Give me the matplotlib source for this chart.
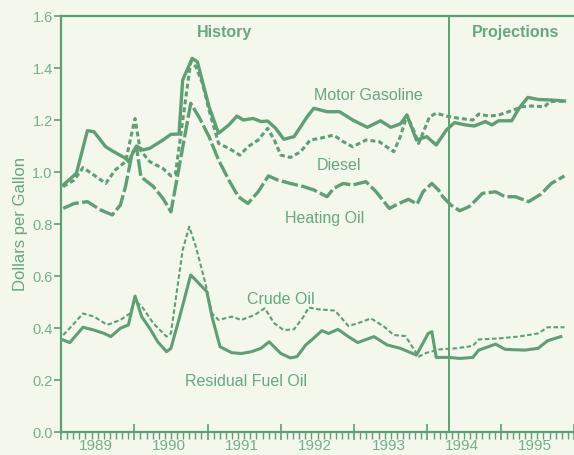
import matplotlib
matplotlib.use("Agg")
import matplotlib.pyplot as plt
import matplotlib.transforms as mtransforms
from matplotlib.ticker import MultipleLocator

plt.rcParams['font.family'] = ['Liberation Sans', 'DejaVu Sans']

# dates in decimal years, prices in dollars per gallon
gas_t = [1989.03, 1989.21, 1989.36, 1989.45, 1989.61, 1989.72, 1989.88, 1989.92, 1990.03, 1990.12,
         1990.21, 1990.39, 1990.50, 1990.61, 1990.66, 1990.79, 1990.86, 1991.02, 1991.15, 1991.29,
         1991.40, 1991.49, 1991.62, 1991.73, 1991.82, 1991.93, 1992.04, 1992.18, 1992.36, 1992.45,
         1992.63, 1992.80, 1992.98, 1993.18, 1993.36, 1993.50, 1993.63, 1993.72, 1993.85, 1993.99,
         1994.12, 1994.26, 1994.37, 1994.52, 1994.64, 1994.79, 1994.88, 1994.97, 1995.15, 1995.25,
         1995.37, 1995.51, 1995.69, 1995.87]
gas_v = [0.95, 0.995, 1.159, 1.155, 1.097, 1.078, 1.053, 1.04, 1.10, 1.085,
         1.091, 1.123, 1.145, 1.146, 1.354, 1.437, 1.424, 1.251, 1.149, 1.181,
         1.215, 1.20, 1.206, 1.194, 1.196, 1.168, 1.126, 1.136, 1.213, 1.245,
         1.232, 1.232, 1.20, 1.172, 1.197, 1.172, 1.185, 1.219, 1.123, 1.136,
         1.104, 1.162, 1.19, 1.181, 1.177, 1.194, 1.181, 1.197, 1.197, 1.245,
         1.287, 1.279, 1.277, 1.273]

diesel_t = [1989.03, 1989.18, 1989.30, 1989.45, 1989.61, 1989.74, 1989.88, 1990.01, 1990.08, 1990.21,
            1990.39, 1990.50, 1990.56, 1990.77, 1990.84, 1990.93, 1991.02, 1991.15, 1991.29, 1991.44,
            1991.55, 1991.69, 1991.82, 1991.91, 1992.00, 1992.13, 1992.27, 1992.40, 1992.54, 1992.72,
            1992.85, 1992.98, 1993.16, 1993.34, 1993.54, 1993.63, 1993.72, 1993.83, 1993.88, 1994.03,
            1994.12, 1994.26, 1994.44, 1994.62, 1994.70, 1994.84, 1994.97, 1995.15, 1995.29, 1995.42,
            1995.60, 1995.67, 1995.87]
diesel_v = [0.944, 0.969, 1.017, 0.988, 0.956, 1.008, 1.04, 1.206, 1.085, 1.04,
            1.014, 0.985, 0.99, 1.424, 1.405, 1.341, 1.238, 1.11, 1.091, 1.065,
            1.097, 1.123, 1.168, 1.123, 1.065, 1.056, 1.078, 1.123, 1.13, 1.142,
            1.117, 1.097, 1.123, 1.117, 1.078, 1.136, 1.219, 1.149, 1.11, 1.213,
            1.226, 1.215, 1.206, 1.20, 1.223, 1.215, 1.219, 1.236, 1.251, 1.254,
            1.251, 1.271, 1.273]

heat_t = [1989.03, 1989.18, 1989.36, 1989.54, 1989.70, 1989.81, 1989.88, 1989.97, 1990.03, 1990.09,
          1990.26, 1990.39, 1990.50, 1990.77, 1990.88, 1991.02, 1991.15, 1991.29, 1991.42, 1991.55,
          1991.69, 1991.83, 1991.96, 1992.13, 1992.31, 1992.45, 1992.54, 1992.63, 1992.72, 1992.85,
          1992.98, 1993.16, 1993.30, 1993.48, 1993.61, 1993.74, 1993.86, 1993.94, 1994.06, 1994.15,
          1994.21, 1994.32, 1994.44, 1994.57, 1994.66, 1994.75, 1994.93, 1995.06, 1995.20, 1995.38,
          1995.55, 1995.69, 1995.87]
heat_v = [0.86, 0.879, 0.886, 0.854, 0.835, 0.873, 0.944, 1.072, 1.097, 0.982,
          0.944, 0.899, 0.847, 1.264, 1.213, 1.136, 1.046, 0.969, 0.905, 0.879,
          0.924, 0.985, 0.969, 0.956, 0.944, 0.931, 0.918, 0.905, 0.937, 0.956,
          0.95, 0.963, 0.924, 0.86, 0.879, 0.895, 0.877, 0.924, 0.956, 0.931,
          0.905, 0.873, 0.851, 0.867, 0.892, 0.918, 0.924, 0.905, 0.905, 0.886,
          0.915, 0.956, 0.985]

crude_t = [1989.03, 1989.18, 1989.30, 1989.45, 1989.63, 1989.81, 1989.94, 1990.01, 1990.12, 1990.26,
           1990.44, 1990.50, 1990.66, 1990.75, 1990.84, 1990.97, 1991.06, 1991.15, 1991.33, 1991.46,
           1991.64, 1991.78, 1991.91, 1992.04, 1992.18, 1992.31, 1992.38, 1992.51, 1992.74, 1992.92,
           1993.05, 1993.23, 1993.41, 1993.54, 1993.70, 1993.88, 1993.99, 1994.17, 1994.39, 1994.62,
           1994.70, 1994.97, 1995.24, 1995.51, 1995.64, 1995.87]
crude_v = [0.373, 0.418, 0.456, 0.444, 0.412, 0.431, 0.456, 0.508, 0.476, 0.418,
           0.367, 0.38, 0.70, 0.79, 0.713, 0.572, 0.456, 0.431, 0.444, 0.431,
           0.45, 0.476, 0.418, 0.392, 0.395, 0.444, 0.479, 0.472, 0.467, 0.408,
           0.418, 0.437, 0.405, 0.373, 0.369, 0.29, 0.305, 0.318, 0.322, 0.331,
           0.356, 0.36, 0.367, 0.379, 0.403, 0.403]

resid_t = [1989.03, 1989.12, 1989.30, 1989.45, 1989.59, 1989.68, 1989.81, 1989.92, 1990.01, 1990.10,
           1990.21, 1990.32, 1990.44, 1990.50, 1990.62, 1990.77, 1990.88, 1990.99, 1991.06, 1991.17,
           1991.33, 1991.46, 1991.60, 1991.73, 1991.84, 1992.00, 1992.13, 1992.22, 1992.34, 1992.42,
           1992.56, 1992.65, 1992.78, 1992.92, 1993.05, 1993.27, 1993.45, 1993.63, 1993.85, 1994.01,
           1994.06, 1994.12, 1994.30, 1994.44, 1994.62, 1994.70, 1994.93, 1995.06, 1995.33, 1995.51,
           1995.64, 1995.82]
resid_v = [0.354, 0.344, 0.403, 0.392, 0.379, 0.367, 0.399, 0.412, 0.523, 0.444,
           0.399, 0.347, 0.309, 0.322, 0.444, 0.604, 0.572, 0.54, 0.444, 0.328,
           0.305, 0.302, 0.309, 0.322, 0.347, 0.302, 0.285, 0.29, 0.335, 0.354,
           0.39, 0.379, 0.395, 0.367, 0.344, 0.367, 0.335, 0.322, 0.296, 0.379,
           0.386, 0.287, 0.287, 0.283, 0.287, 0.315, 0.338, 0.318, 0.315, 0.322,
           0.351, 0.367]

years = [1989, 1990, 1991, 1992, 1993, 1994, 1995]
history_end = 1994.3

green = '#5f9f73'
text_green = '#67a87d'
tick_green = '#76b08b'
bg = '#f3f7ec'

fig = plt.figure(figsize=(5.74, 4.55), dpi=100, facecolor=bg)
ax = fig.add_axes([0.1063, 0.0505, 0.8937, 0.9143], facecolor=bg)

ax.plot(gas_t, gas_v, color=green, lw=2.4, solid_joinstyle='round')
ax.plot(diesel_t, diesel_v, color=green, lw=2.2, dashes=(1.6, 1.0))
ax.plot(heat_t, heat_v, color=green, lw=2.4, dashes=(5, 1))
ax.plot(crude_t, crude_v, color=green, lw=1.5, dashes=(2.2, 1.2))
ax.plot(resid_t, resid_v, color=green, lw=2.2, solid_joinstyle='round')

ax.axvline(history_end, color=green, lw=1.4)

ax.set_xlim(1989.0, 1995.875)
ax.set_ylim(0, 1.6)

for side in ['left', 'bottom', 'top']:
    ax.spines[side].set_color(green)
    ax.spines[side].set_linewidth(1.6)
ax.spines['right'].set_visible(False)

ax.set_yticks([0, 0.2, 0.4, 0.6, 0.8, 1.0, 1.2, 1.4, 1.6])
ax.set_yticklabels(['0.0', '0.2', '0.4', '0.6', '0.8', '1.0', '1.2', '1.4', '1.6'])
ax.tick_params(axis='y', colors=green, labelcolor=tick_green, labelsize=10.5,
               length=5, width=1.2, direction='out', pad=1)

ax.set_xticks(years + [1996])
ax.set_xticklabels([])
ax.xaxis.set_minor_locator(MultipleLocator(1 / 12))
ax.tick_params(axis='x', which='major', colors=green, length=12, width=1.2, direction='inout')
ax.tick_params(axis='x', which='minor', colors=green, length=5, width=1.0, direction='out')

trans = mtransforms.blended_transform_factory(ax.transData, ax.transAxes)
for y in years:
    ax.text(y + 0.47, -0.017, str(y), transform=trans, ha='center', va='top',
            fontsize=11, color=tick_green)

ax.set_ylabel('Dollars per Gallon', color=text_green, fontsize=12, labelpad=3)

def label(x_px, y_px, s, **kw):
    fig.text(x_px / 574, 1 - y_px / 455, s, ha='center', va='center',
             color=text_green, **kw)

label(225, 32, 'History', fontsize=11.5, fontweight='bold')
label(516, 32, 'Projections', fontsize=11.5, fontweight='bold')
label(368, 96, 'Motor Gasoline', fontsize=11.5)
label(339, 166, 'Diesel', fontsize=11.5)
label(325, 218, 'Heating Oil', fontsize=11.5)
label(281, 300, 'Crude Oil', fontsize=11.5)
label(246, 382, 'Residual Fuel Oil', fontsize=11.5)

fig.savefig('out.png', dpi=100, facecolor=bg)
